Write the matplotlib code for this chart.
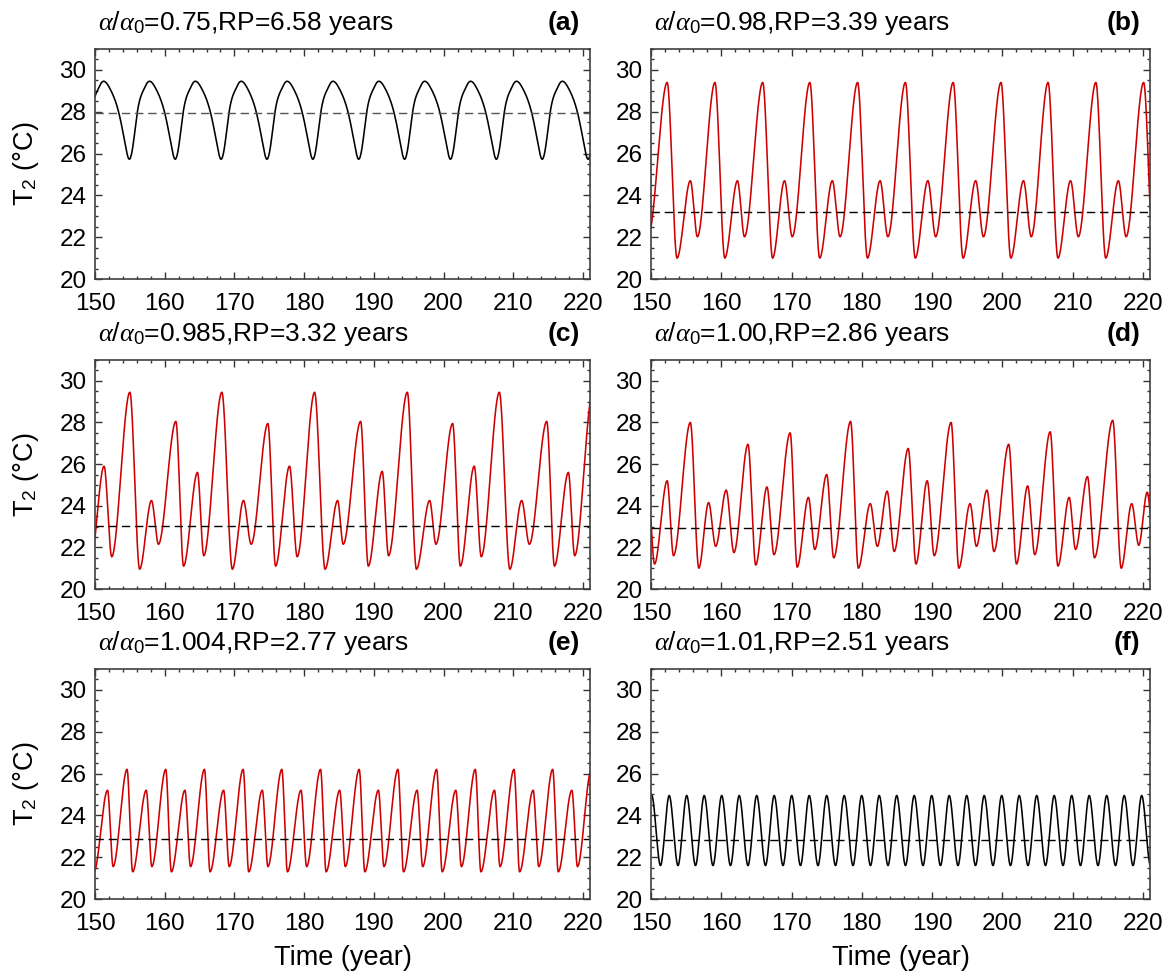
import numpy as np
import matplotlib
matplotlib.use("Agg")
import matplotlib.pyplot as plt
from matplotlib.ticker import MultipleLocator

plt.rcParams["font.family"] = ["Liberation Sans", "DejaVu Sans"]
plt.rcParams["mathtext.fontset"] = "custom"
plt.rcParams["mathtext.rm"] = "Liberation Sans"
plt.rcParams["mathtext.it"] = "Liberation Serif:italic"

# ---- data (times in years, T2 in degC) ----
# (a) alpha/alpha0 = 0.75
A_PEAK_T = [144.37, 150.95, 157.53, 164.11, 170.69, 177.27, 183.85, 190.43, 197.01,
            203.59, 210.17, 216.75]
A_TROUGH_T = [148.32, 154.9, 161.48, 168.06, 174.64, 181.22, 187.8, 194.38, 200.96,
              207.54, 214.12, 220.7]
A_PEAK, A_TROUGH = 29.4, 25.73
A_FLANK_DT = [-2.75, -1.47, -0.6, 0.6, 1.15, 2.15]     # flank points around each trough
A_FLANK_V = [29.1, 27.93, 26.5, 26.5, 27.93, 29.1]
A_MEAN = 27.93

# (b) alpha/alpha0 = 0.98
B_BIG_PEAK_T = [152.3, 159.1, 165.9, 172.6, 179.4, 186.2, 193.0, 199.8, 206.5, 213.3, 220.1]
B_BIG_TROUGH_T = [153.7, 160.5, 167.3, 174.0, 180.8, 187.6, 194.4, 201.2, 207.9, 214.7, 221.5]
B_SMALL_PEAK_T = [155.6, 162.3, 169.0, 175.8, 182.6, 189.4, 196.2, 203.0, 209.7, 216.5]
B_SMALL_TROUGH_T = [149.6, 156.6, 163.3, 170.1, 176.9, 183.7, 190.5, 197.3, 204.1, 210.8, 217.6]
B_BIG_PEAK, B_BIG_TROUGH, B_SMALL_PEAK, B_SMALL_TROUGH = 29.4, 21.0, 24.7, 22.02
B_MEAN = 23.2

# (c) alpha/alpha0 = 0.985
C_T = [149.3, 151.3, 152.4, 155.0, 156.4, 158.1, 159.1, 161.6, 162.7, 164.7, 165.6,
       168.2, 169.7, 171.3, 172.4, 174.8, 175.9, 177.9, 179.0, 181.5, 183.0, 184.8,
       185.6, 188.1, 189.2, 191.2, 192.1, 194.8, 196.1, 198.0, 198.9, 201.3, 202.4,
       204.4, 205.4, 208.0, 209.5, 211.2, 212.3, 214.8, 215.9, 217.9, 218.8, 221.4]
C_V = [21.1, 25.9, 21.55, 29.45, 20.95, 24.25, 22.15, 28.05, 21.1, 25.6, 21.6,
       29.45, 20.95, 24.25, 22.15, 27.95, 21.1, 25.9, 21.55, 29.45, 20.95, 24.25,
       22.15, 28.05, 21.1, 25.65, 21.6, 29.45, 20.95, 24.25, 22.15, 27.95, 21.1,
       25.9, 21.55, 29.45, 20.95, 24.25, 22.15, 28.05, 21.1, 25.6, 21.6, 29.45]
C_MEAN = 23.05

# (d) alpha/alpha0 = 1.00
D_T = [149.5, 150.5, 152.3, 153.2, 155.6, 156.8, 158.2, 159.2, 160.7, 161.8, 163.8,
       164.9, 166.5, 167.5, 169.8, 170.8, 172.4, 173.3, 175.0, 176.0, 178.4, 179.5,
       181.2, 182.2, 183.6, 184.6, 186.6, 187.7, 189.3, 190.3, 192.7, 193.8, 195.4,
       196.3, 197.8, 198.8, 200.9, 202.0, 203.6, 204.6, 206.8, 207.9, 209.5, 210.4,
       212.1, 213.1, 215.7, 216.9, 218.4, 219.4, 220.6, 221.6]
D_V = [25.4, 21.2, 25.2, 21.6, 28.0, 21.0, 24.15, 22.05, 24.75, 21.75, 26.95,
       21.15, 24.9, 21.65, 27.5, 21.05, 24.4, 21.9, 25.5, 21.5, 28.05, 21.0,
       24.1, 22.05, 24.7, 21.8, 26.75, 21.2, 25.2, 21.6, 28.0, 21.0, 24.1,
       22.05, 24.75, 21.8, 26.95, 21.2, 24.95, 21.65, 27.55, 21.1, 24.4, 21.9,
       25.4, 21.5, 28.1, 21.0, 24.1, 22.1, 24.65, 22.0]
D_MEAN = 22.95

# (e) alpha/alpha0 = 1.004
E_BIG_PEAK_T = [154.6, 160.15, 165.7, 171.25, 176.8, 182.35, 187.9, 193.45, 199.0,
                204.55, 210.1, 215.65, 221.2]
E_DEEP_TROUGH_T = [149.85, 155.4, 160.95, 166.5, 172.05, 177.6, 183.15, 188.7, 194.25,
                   199.8, 205.35, 210.9, 216.45]
E_SMALL_PEAK_T = [151.8, 157.35, 162.9, 168.45, 174.0, 179.55, 185.1, 190.65, 196.2,
                  201.75, 207.3, 212.85, 218.4]
E_SHALLOW_TROUGH_T = [152.6, 158.15, 163.7, 169.25, 174.8, 180.35, 185.9, 191.45, 197.0,
                      202.55, 208.1, 213.65, 219.2]
E_BIG_PEAK, E_DEEP_TROUGH, E_SMALL_PEAK, E_SHALLOW_TROUGH = 26.2, 21.3, 25.2, 21.55
E_MEAN = 22.85

# (f) alpha/alpha0 = 1.01
F_PEAK_T = [150.1, 152.59, 155.08, 157.57, 160.06, 162.55, 165.04, 167.53, 170.02,
            172.51, 175.0, 177.49, 179.98, 182.47, 184.96, 187.45, 189.94, 192.43,
            194.92, 197.41, 199.9, 202.39, 204.88, 207.37, 209.86, 212.35, 214.84,
            217.33, 219.82]
F_TROUGH_T = [151.35, 153.84, 156.33, 158.82, 161.31, 163.8, 166.29, 168.78, 171.27,
              173.76, 176.25, 178.74, 181.23, 183.72, 186.21, 188.7, 191.19, 193.68,
              196.17, 198.66, 201.15, 203.64, 206.13, 208.62, 211.11, 213.6, 216.09,
              218.58, 221.07]
F_PEAK, F_TROUGH = 24.95, 21.6
F_MEAN = 22.8

TITLES = [r"$\alpha$/$\alpha_0$=0.75,RP=6.58 years", r"$\alpha$/$\alpha_0$=0.98,RP=3.39 years",
          r"$\alpha$/$\alpha_0$=0.985,RP=3.32 years", r"$\alpha$/$\alpha_0$=1.00,RP=2.86 years",
          r"$\alpha$/$\alpha_0$=1.004,RP=2.77 years", r"$\alpha$/$\alpha_0$=1.01,RP=2.51 years"]
TAGS = ["(a)", "(b)", "(c)", "(d)", "(e)", "(f)"]

RED = "#cc0000"
FS_TICK, FS_TITLE, FS_LABEL = 17.5, 19, 19.5


def keypoints(*groups):
    t = np.concatenate([np.asarray(g[0], float) for g in groups])
    v = np.concatenate([np.broadcast_to(np.asarray(g[1], float), (len(g[0]),)) for g in groups])
    o = np.argsort(t)
    return t[o], v[o]


def _hermite(x, y, d, n):
    h = np.diff(x)
    xs = np.linspace(x[0], x[-1], n)
    i = np.clip(np.searchsorted(x, xs) - 1, 0, len(h) - 1)
    t = (xs - x[i]) / h[i]
    ys = ((2 * t**3 - 3 * t**2 + 1) * y[i] + (t**3 - 2 * t**2 + t) * h[i] * d[i]
          + (-2 * t**3 + 3 * t**2) * y[i + 1] + (t**3 - t**2) * h[i] * d[i + 1])
    return xs, ys


def pchip(x, y, n=6000):
    """Monotone cubic curve through the read-off extrema."""
    x = np.asarray(x, float); y = np.asarray(y, float)
    h = np.diff(x); m = np.diff(y) / h
    d = np.zeros_like(y)              # zero slope at extrema and at the two ends
    for k in range(1, len(x) - 1):
        if m[k - 1] * m[k] > 0:
            w1, w2 = 2 * h[k] + h[k - 1], h[k] + 2 * h[k - 1]
            d[k] = (w1 + w2) / (w1 / m[k - 1] + w2 / m[k])
    return _hermite(x, y, d, n)


def spline(x, y, n=6000):
    """Natural cubic spline through the read-off points (smooth flanks)."""
    x = np.asarray(x, float); y = np.asarray(y, float)
    h = np.diff(x); N = len(x)
    A = np.zeros((N, N)); r = np.zeros(N)
    A[0, 0] = A[-1, -1] = 1.0
    for i in range(1, N - 1):
        A[i, i - 1], A[i, i], A[i, i + 1] = h[i - 1], 2 * (h[i - 1] + h[i]), h[i]
        r[i] = 6 * ((y[i + 1] - y[i]) / h[i] - (y[i] - y[i - 1]) / h[i - 1])
    M = np.linalg.solve(A, r)
    d = np.empty(N)                   # first derivatives from the second ones
    d[:-1] = (y[1:] - y[:-1]) / h - h * (2 * M[:-1] + M[1:]) / 6
    d[-1] = (y[-1] - y[-2]) / h[-1] + h[-1] * (M[-2] + 2 * M[-1]) / 6
    return _hermite(x, y, d, n)


panels = [
    (spline(*keypoints((A_PEAK_T, A_PEAK), (A_TROUGH_T, A_TROUGH),
                       *[([t + dt for t in A_TROUGH_T], v)
                         for dt, v in zip(A_FLANK_DT, A_FLANK_V)])),
     "black", A_MEAN, "#555555"),
    (pchip(*keypoints((B_BIG_PEAK_T, B_BIG_PEAK), (B_BIG_TROUGH_T, B_BIG_TROUGH),
                      (B_SMALL_PEAK_T, B_SMALL_PEAK), (B_SMALL_TROUGH_T, B_SMALL_TROUGH))),
     RED, B_MEAN, "black"),
    (pchip(C_T, C_V), RED, C_MEAN, "black"),
    (pchip(D_T, D_V), RED, D_MEAN, "black"),
    (pchip(*keypoints((E_BIG_PEAK_T, E_BIG_PEAK), (E_DEEP_TROUGH_T, E_DEEP_TROUGH),
                      (E_SMALL_PEAK_T, E_SMALL_PEAK), (E_SHALLOW_TROUGH_T, E_SHALLOW_TROUGH))),
     RED, E_MEAN, "black"),
    (pchip(*keypoints((F_PEAK_T, F_PEAK), (F_TROUGH_T, F_TROUGH))), "black", F_MEAN, "black"),
]

W, H = 1169, 976
fig = plt.figure(figsize=(W / 100, H / 100), dpi=100)
col_x = [(95, 590), (651, 1150)]
row_y = [(49, 279), (360, 589), (669, 899)]

for k, ((xs, ys), color, mean, mcolor) in enumerate(panels):
    row, col = divmod(k, 2)
    x0, x1 = col_x[col]; y0, y1 = row_y[row]
    ax = fig.add_axes([x0 / W, 1 - y1 / H, (x1 - x0) / W, (y1 - y0) / H])
    ax.plot(xs, ys, color=color, lw=1.15)
    ax.axhline(mean, color=mcolor, lw=1.0, dashes=(6, 3.5))
    ax.set_xlim(150, 221)
    ax.set_ylim(20, 31)
    ax.xaxis.set_major_locator(MultipleLocator(10))
    ax.xaxis.set_minor_locator(MultipleLocator(2))
    ax.yaxis.set_major_locator(MultipleLocator(2))
    ax.yaxis.set_minor_locator(MultipleLocator(0.5))
    ax.tick_params(which="both", direction="in", top=True, right=True,
                   labelsize=FS_TICK, color="#333333", width=1.0)
    ax.tick_params(which="major", length=5)
    ax.tick_params(which="minor", length=2.5)
    ax.tick_params(axis="x", pad=10)
    ax.tick_params(axis="y", pad=6)
    for s in ax.spines.values():
        s.set_color("#404040"); s.set_linewidth(1.2)
    ax.annotate(TITLES[k], xy=(0, 1), xycoords="axes fraction", xytext=(2, 13.5),
                textcoords="offset points", ha="left", va="baseline", fontsize=FS_TITLE)
    ax.annotate(TAGS[k], xy=(1, 1), xycoords="axes fraction", xytext=(-7, 13.5),
                textcoords="offset points", ha="right", va="baseline", fontsize=FS_TITLE,
                fontweight="bold")
    if col == 0:
        ax.set_ylabel("T$_2$ (°C)", fontsize=FS_LABEL, labelpad=13)
    if row == 2:
        ax.set_xlabel("Time (year)", fontsize=FS_LABEL, labelpad=7)

fig.savefig("out.png", dpi=100)
